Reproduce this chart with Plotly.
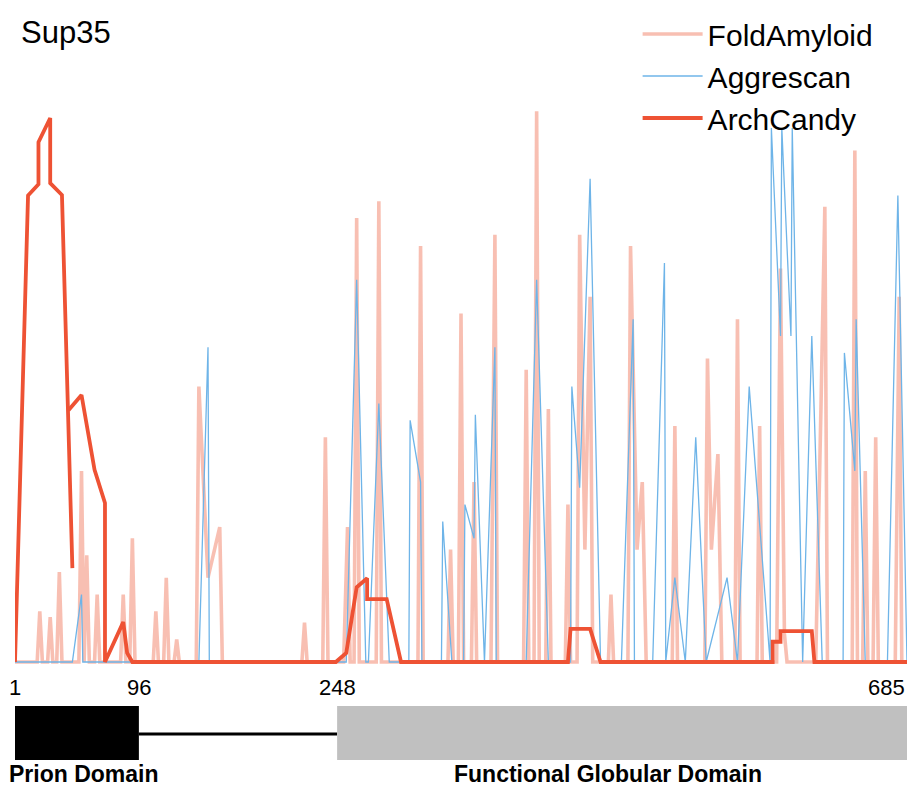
import plotly.graph_objects as go

# ---- data (residue position, normalised score) ----
fold_pos = [1, 18, 20, 22, 26, 28, 30, 33, 35, 37, 50, 52, 54, 56, 58, 62, 64, 66,
            82, 84, 86, 89, 91, 93, 107, 109, 111, 115, 117, 119, 123, 125, 127,
            140, 142, 149, 158, 160, 221, 223, 225, 237, 239, 241, 253, 256, 258,
            261, 263, 265, 278, 280, 282, 310, 312, 314, 333, 335, 337, 341, 343, 345,
            351, 353, 355, 366, 369, 371, 391, 393, 395, 399, 401, 403, 408, 410, 412,
            423, 425, 427, 432, 434, 438, 442, 444, 456, 458, 460, 471, 473, 478, 482, 485,
            505, 507, 509, 530, 532, 535, 540, 543, 553, 555, 557, 570, 572, 574,
            585, 588, 591, 593, 615, 619, 622, 624, 643, 645, 647, 651, 653, 655,
            659, 661, 663, 676, 679, 681, 685]
fold_val = [0, 0, 0.09, 0, 0, 0.08, 0, 0, 0.16, 0, 0, 0.34, 0, 0.19, 0, 0, 0.12, 0,
            0, 0.12, 0, 0, 0.22, 0, 0, 0.09, 0, 0, 0.15, 0, 0, 0.04, 0,
            0, 0.49, 0.15, 0.24, 0, 0, 0.07, 0, 0, 0.40, 0, 0, 0.24, 0,
            0, 0.79, 0, 0, 0.82, 0, 0, 0.74, 0, 0, 0.20, 0, 0, 0.62, 0,
            0, 0.32, 0, 0, 0.76, 0, 0, 0.52, 0, 0, 0.98, 0, 0, 0.45, 0,
            0, 0.28, 0, 0, 0.76, 0.20, 0.65, 0, 0, 0.12, 0, 0, 0.74, 0.20, 0.32, 0,
            0, 0.42, 0, 0, 0.54, 0.20, 0.37, 0, 0, 0.61, 0, 0, 0.42, 0,
            0, 0.70, 0.05, 0, 0, 0.45, 0.81, 0, 0, 0.91, 0, 0, 0.34, 0,
            0, 0.40, 0, 0, 0.65, 0, 0]

aggr_pos = [1, 45, 52, 53, 142, 149, 150, 255, 263, 270, 272, 280, 288,
            303, 304, 312, 313, 328, 329, 336, 345, 346, 353, 354, 361,
            369, 370, 393, 401, 410, 427, 428, 434, 442, 450,
            466, 475, 476, 490, 499, 500, 507, 515, 523, 531, 547, 555,
            564, 580, 581, 588, 589, 596, 597, 605, 612, 620,
            636, 637, 645, 646, 653, 670, 678, 685]
aggr_val = [0, 0, 0.12, 0, 0, 0.56, 0, 0, 0.68, 0, 0, 0.46, 0,
            0, 0.43, 0.32, 0, 0, 0.25, 0, 0, 0.28, 0.22, 0.44, 0,
            0.56, 0, 0, 0.68, 0, 0, 0.49, 0.31, 0.86, 0,
            0, 0.61, 0, 0, 0.71, 0, 0.15, 0, 0.40, 0, 0.15, 0,
            0.49, 0, 0.95, 0.58, 0.95, 0.58, 0.95, 0, 0.58, 0,
            0, 0.55, 0.34, 0.61, 0, 0, 0.83, 0]

arch_pos = [1, 11, 19, 19, 28, 28, 37, 45, None, 42, 52, 62, 70, 70, 84, 87, 91,
            247, 255, 263, 271, 271, 286, 297, 425, 427, 442, 450,
            582, 582, 588, 588, 612, 614, 685]
arch_val = [0, 0.83, 0.85, 0.925, 0.968, 0.852, 0.831, 0.167, None, 0.448, 0.475, 0.342,
            0.283, 0, 0.071, 0.016, 0,
            0, 0.016, 0.133, 0.149, 0.112, 0.112, 0, 0, 0.059, 0.059, 0,
            0, 0.036, 0.036, 0.055, 0.055, 0, 0]

tick_vals = [1, 96, 248, 685]
tick_text = ["1", "96", "248", "685"]
domains = [("Prion Domain", 1, 96), ("Functional Globular Domain", 248, 685)]
title = "Sup35"

FONT = "Liberation Sans, Arial, sans-serif"

fig = go.Figure()
fig.add_trace(go.Scatter(x=fold_pos, y=fold_val, mode="lines", name="FoldAmyloid",
                         legendgroup="a",
                         line=dict(color="rgba(240,118,92,0.47)", width=3.6)))
fig.add_trace(go.Scatter(x=aggr_pos, y=aggr_val, mode="lines", name="Aggrescan",
                         legendgroup="b",
                         line=dict(color="rgb(110,180,232)", width=1.3)))
fig.add_trace(go.Scatter(x=arch_pos, y=arch_val, mode="lines", name="ArchCandy",
                         legendgroup="c",
                         line=dict(color="rgb(238,82,52)", width=3.8)))

# domain diagram
fig.add_shape(type="rect", xref="x", yref="paper", x0=domains[0][1], x1=domains[0][2],
              y0=-0.162, y1=-0.067, fillcolor="black", line=dict(width=0))
fig.add_shape(type="line", xref="x", yref="paper", x0=domains[0][2], x1=domains[1][1],
              y0=-0.116, y1=-0.116, line=dict(color="black", width=3))
fig.add_shape(type="rect", xref="x", yref="paper", x0=domains[1][1], x1=domains[1][2],
              y0=-0.162, y1=-0.067, fillcolor="rgb(192,192,192)", line=dict(width=0))

annotations = []
for i, (v, t) in enumerate(zip(tick_vals, tick_text)):
    anchor = "center"
    if i == len(tick_vals) - 1:
        anchor = "right"
    annotations.append(dict(x=v, y=0, xref="x", yref="paper", text=t, showarrow=False,
                            xanchor=anchor, yanchor="top", yshift=-5,
                            font=dict(family=FONT, size=22, color="black")))
annotations.append(dict(x=domains[0][1], y=-0.2113, xref="x", yref="paper",
                        text="<b>" + domains[0][0] + "</b>", showarrow=False,
                        xanchor="left", yanchor="bottom", xshift=-7, borderpad=0,
                        font=dict(family=FONT, size=23, color="black")))
annotations.append(dict(x=(domains[1][1] + domains[1][2]) / 2, y=-0.2113, xref="x", yref="paper",
                        text="<b>" + domains[1][0] + "</b>", showarrow=False,
                        xanchor="center", yanchor="bottom", xshift=-14, borderpad=0,
                        font=dict(family=FONT, size=23, color="black")))
annotations.append(dict(x=0, y=1.118, xref="paper", yref="paper", text=title,
                        showarrow=False, xanchor="left", yanchor="middle", xshift=4,
                        font=dict(family=FONT, size=31, color="black")))

fig.update_layout(
    width=899, height=780,
    margin=dict(l=7, r=0, t=92, b=120),
    paper_bgcolor="white", plot_bgcolor="white",
    xaxis=dict(range=[1, 685], visible=False),
    yaxis=dict(range=[-0.0107, 1.0], visible=False),
    showlegend=True,
    legend=dict(x=0.698, y=1.162, xanchor="left", yanchor="top", itemwidth=60,
                bgcolor="rgba(0,0,0,0)", tracegroupgap=0,
                font=dict(family=FONT, size=30, color="black")),
    annotations=annotations,
)

fig.write_html("out.html")
